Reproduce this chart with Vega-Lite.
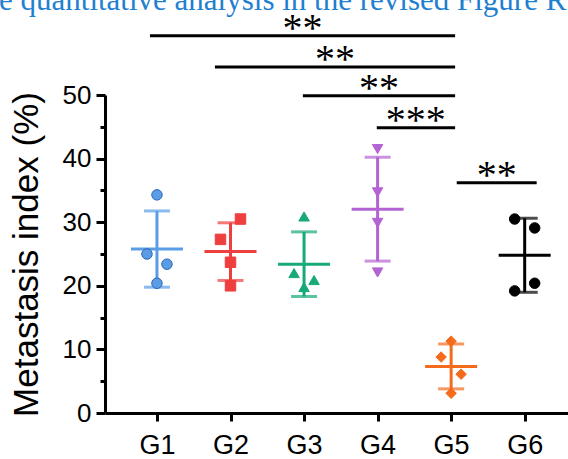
{
  "$schema": "https://vega.github.io/schema/vega-lite/v6.json",
  "width": 463,
  "height": 318,
  "autosize": {"type": "none"},
  "padding": {"left": 105, "top": 95, "right": 0, "bottom": 46},
  "background": "white",
  "title": {
    "text": "e quantitative analysis in the revised Figure R",
    "anchor": "start",
    "frame": "group",
    "font": "Liberation Serif",
    "fontSize": 31,
    "fontWeight": "normal",
    "color": "#1f7fd0",
    "baseline": "alphabetic",
    "dx": -106,
    "dy": 32,
    "offset": 0
  },
  "config": {"view": {"stroke": null}, "font": "Liberation Sans"},
  "datasets": {
    "pts": [
      {"g": 1, "v": 34.3, "lane": "C"},
      {"g": 1, "v": 25.0, "lane": "L"},
      {"g": 1, "v": 23.4, "lane": "R"},
      {"g": 1, "v": 20.4, "lane": "C"},
      {"g": 2, "v": 30.5, "lane": "R"},
      {"g": 2, "v": 27.3, "lane": "L"},
      {"g": 2, "v": 23.7, "lane": "C"},
      {"g": 2, "v": 20.0, "lane": "C"},
      {"g": 3, "v": 30.9, "lane": "C"},
      {"g": 3, "v": 22.0, "lane": "L"},
      {"g": 3, "v": 20.9, "lane": "R"},
      {"g": 3, "v": 19.8, "lane": "C"},
      {"g": 4, "v": 41.5, "lane": "C"},
      {"g": 4, "v": 34.7, "lane": "C"},
      {"g": 4, "v": 29.9, "lane": "C"},
      {"g": 4, "v": 22.1, "lane": "C"},
      {"g": 5, "v": 11.3, "lane": "C"},
      {"g": 5, "v": 8.8, "lane": "L"},
      {"g": 5, "v": 6.1, "lane": "R"},
      {"g": 5, "v": 3.1, "lane": "C"},
      {"g": 6, "v": 30.5, "lane": "L"},
      {"g": 6, "v": 29.1, "lane": "R"},
      {"g": 6, "v": 20.4, "lane": "R"},
      {"g": 6, "v": 19.2, "lane": "L"}
    ],
    "sig": [
      {"from": 0.905, "to": 5.054, "lvl": 59.3, "mid": 2.98, "stars": "**"},
      {"from": 1.788, "to": 5.054, "lvl": 54.4, "mid": 3.42, "stars": "**"},
      {"from": 2.984, "to": 5.054, "lvl": 49.9, "mid": 4.02, "stars": "**"},
      {"from": 3.989, "to": 5.054, "lvl": 44.86, "mid": 4.52, "stars": "***"},
      {"from": 5.076, "to": 6.163, "lvl": 36.2, "mid": 5.62, "stars": "**"}
    ]
  },
  "resolve": {"axis": {"y": "independent"}},
  "layer": [
    {
      "data": {"name": "pts"},
      "mark": {"type": "errorbar", "extent": "stdev", "orient": "vertical", "thickness": 3, "ticks": {"size": 26, "thickness": 3}},
      "encoding": {
        "x": {
          "field": "g", "type": "quantitative",
          "scale": {"domain": [0.2935, 6.589], "nice": false, "zero": false},
          "axis": {
            "values": [1, 2, 3, 4, 5, 6],
            "labelExpr": "'G' + datum.value",
            "title": null, "grid": false,
            "tickSize": 8, "tickWidth": 3, "tickColor": "black",
            "domainWidth": 3, "domainColor": "black",
            "labelFontSize": 27, "labelColor": "black", "labelPadding": 11,
            "labelFont": "Liberation Sans"
          }
        },
        "y": {
          "field": "v", "type": "quantitative",
          "scale": {"domain": [0, 50], "nice": false},
          "axis": {
            "orient": "left",
            "values": [0, 10, 20, 30, 40, 50],
            "title": "Metastasis index (%)",
            "titleFontSize": 35, "titleFontWeight": "normal", "titleColor": "black",
            "titleFont": "Liberation Sans", "titlePadding": 18,
            "grid": false,
            "tickSize": 9, "tickWidth": 3, "tickColor": "black",
            "domainWidth": 3, "domainColor": "black",
            "labelFontSize": 26, "labelColor": "black", "labelPadding": 5,
            "labelFont": "Liberation Sans"
          }
        },
        "color": {
          "field": "g", "type": "nominal",
          "scale": {"domain": [1, 2, 3, 4, 5, 6], "range": ["#5a9de6", "#ee3e3e", "#17a978", "#b464d2", "#f36b1b", "#000000"]},
          "legend": null
        }
      }
    },
    {
      "data": {"name": "pts"},
      "mark": {"type": "tick", "orient": "horizontal", "size": 52, "thickness": 3},
      "encoding": {
        "x": {"field": "g", "type": "quantitative"},
        "y": {
          "aggregate": "mean", "field": "v", "type": "quantitative",
          "axis": {
            "orient": "left",
            "values": [5, 15, 25, 35, 45],
            "labels": false, "domain": false, "title": null, "grid": false,
            "tickSize": 5, "tickWidth": 3, "tickColor": "black"
          }
        },
        "color": {"field": "g", "type": "nominal", "legend": null}
      }
    },
    {
      "data": {"name": "pts"},
      "transform": [{"filter": "datum.lane == 'C'"}],
      "mark": {"type": "point", "filled": true, "size": 110, "strokeWidth": 1, "opacity": 1},
      "encoding": {
        "x": {"field": "g", "type": "quantitative"},
        "y": {"field": "v", "type": "quantitative", "axis": null},
        "color": {"field": "g", "type": "nominal", "legend": null},
        "stroke": {
          "field": "g", "type": "nominal",
          "scale": {"domain": [1, 2, 3, 4, 5, 6], "range": ["#2b66b0", "#ee3e3e", "#17a978", "#b464d2", "#f36b1b", "#000000"]},
          "legend": null
        },
        "shape": {
          "field": "g", "type": "nominal",
          "scale": {"domain": [1, 2, 3, 4, 5, 6], "range": ["circle", "square", "triangle-up", "triangle-down", "diamond", "circle"]},
          "legend": null
        }
      }
    },
    {
      "data": {"name": "pts"},
      "transform": [{"filter": "datum.lane == 'L'"}],
      "mark": {"type": "point", "filled": true, "size": 110, "strokeWidth": 1, "opacity": 1, "xOffset": -10},
      "encoding": {
        "x": {"field": "g", "type": "quantitative"},
        "y": {"field": "v", "type": "quantitative", "axis": null},
        "color": {"field": "g", "type": "nominal", "legend": null},
        "stroke": {"field": "g", "type": "nominal", "legend": null},
        "shape": {"field": "g", "type": "nominal", "legend": null}
      }
    },
    {
      "data": {"name": "pts"},
      "transform": [{"filter": "datum.lane == 'R'"}],
      "mark": {"type": "point", "filled": true, "size": 110, "strokeWidth": 1, "opacity": 1, "xOffset": 10},
      "encoding": {
        "x": {"field": "g", "type": "quantitative"},
        "y": {"field": "v", "type": "quantitative", "axis": null},
        "color": {"field": "g", "type": "nominal", "legend": null},
        "stroke": {"field": "g", "type": "nominal", "legend": null},
        "shape": {"field": "g", "type": "nominal", "legend": null}
      }
    },
    {
      "data": {"name": "sig"},
      "mark": {"type": "rule", "strokeWidth": 3, "color": "black"},
      "encoding": {
        "x": {"field": "from", "type": "quantitative"},
        "x2": {"field": "to"},
        "y": {"field": "lvl", "type": "quantitative", "axis": null}
      }
    },
    {
      "data": {"name": "sig"},
      "mark": {"type": "text", "font": "Liberation Serif", "fontSize": 40, "baseline": "alphabetic", "align": "center", "dy": 5, "color": "black"},
      "encoding": {
        "x": {"field": "mid", "type": "quantitative"},
        "y": {"field": "lvl", "type": "quantitative", "axis": null},
        "text": {"field": "stars"}
      }
    }
  ]
}
